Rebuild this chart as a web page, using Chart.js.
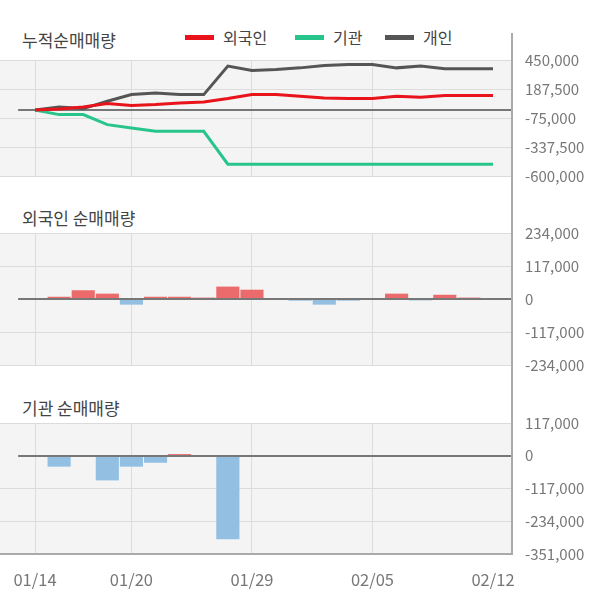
<!DOCTYPE html>
<html><head><meta charset="utf-8">
<script src="https://cdn.jsdelivr.net/npm/chart.js@4"></script>
<style>
body{margin:0;background:#fff;width:600px;height:604px;overflow:hidden;position:relative;font-family:'Noto Sans CJK KR','Noto Sans',sans-serif;}
canvas{position:absolute;left:0;}
.title{position:absolute;left:22px;font-size:17px;line-height:17px;color:#444;white-space:nowrap;}
.leg{position:absolute;top:29px;font-size:16px;line-height:16px;color:#444;display:flex;align-items:center;white-space:nowrap;}
.leg i{display:inline-block;width:29px;height:5px;margin-right:9px;}
.vline{position:absolute;left:511px;top:33px;width:2px;height:522px;background:#aaa;}
</style></head><body>
<div class="title" style="top:31px">누적순매매량</div>
<div id="legend"></div>
<div class="title" style="top:209px">외국인 순매매량</div>
<div class="title" style="top:399px">기관 순매매량</div>
<canvas id="c1" width="600" height="200" style="top:0"></canvas>
<canvas id="c2" width="600" height="180" style="top:200px"></canvas>
<canvas id="c3" width="600" height="224" style="top:380px"></canvas>
<div class="vline"></div>
<script>
// ---- data ----
const dates = ['01/14','01/15','01/16','01/17','01/20','01/21','01/22','01/23','01/28','01/29','01/30','01/31','02/03','02/04','02/05','02/06','02/07','02/10','02/11','02/12'];
const tickDates = ['01/14','01/20','01/29','02/05','02/12'];
const seriesNames = ['외국인','기관','개인'];
const foreignCum = [0,9000,27000,58000,40000,49000,64000,73000,104000,140000,140000,125000,110000,104000,104000,125000,116000,131000,131000,131000];
const instCum = [0,-42000,-42000,-133000,-164000,-194000,-194000,-194000,-493000,-493000,-493000,-493000,-493000,-493000,-493000,-493000,-493000,-493000,-493000,-493000];
const indivCum = [0,27000,13000,79000,140000,155000,140000,140000,399000,360000,369000,383000,405000,414000,414000,383000,399000,374000,374000,374000];
const foreignNet = [0,8000,31000,19000,-20000,8000,8000,5000,44000,33000,0,-6000,-20000,-6000,0,19000,-5000,15000,5000,0];
const instNet = [0,-39000,0,-88000,-39000,-25000,6000,0,-298000,0,0,0,0,0,0,0,0,0,0,0];
const cumTicks = [450000,187500,-75000,-337500,-600000];
const foreignTicks = [234000,117000,0,-117000,-234000];
const instTicks = [117000,0,-117000,-234000,-351000];

// ---- style ----
const lineColors = ['#e8131b','#27c48b','#555555'];
const posColor = '#eb6b6d', negColor = '#92bfe2';
const gridColor = '#dcdcdc';
const X_MIN = -1.452, X_MAX = 19.788, ZERO_START = -0.7;

Chart.defaults.font.family = "'Noto Sans CJK KR','Noto Sans',sans-serif";
Chart.defaults.animation = false;

// legend
const leg = document.getElementById('legend');
const legLeft = [185, 295, 385];
seriesNames.forEach((n,i)=>{
  const d = document.createElement('div');
  d.className = 'leg'; d.style.left = legLeft[i]+'px';
  d.innerHTML = '<i style="background:'+lineColors[i]+'"></i>'+n;
  leg.appendChild(d);
});

const tickIdx = tickDates.map(d => dates.indexOf(d));
const pts = arr => arr.map((v,i)=>({x:i,y:v}));

function zeroLine(chart){
  const {ctx, chartArea:a, scales} = chart;
  const y = Math.round(scales.y.getPixelForValue(0));
  const x0 = scales.x.getPixelForValue(ZERO_START);
  ctx.save();
  ctx.strokeStyle = '#777'; ctx.lineWidth = 2;
  ctx.beginPath(); ctx.moveTo(x0, y); ctx.lineTo(a.right, y); ctx.stroke();
  ctx.restore();
}
const panelPlugin = {
  id:'panel',
  beforeDraw(chart){
    const {ctx, chartArea:a} = chart;
    ctx.save(); ctx.fillStyle = '#f4f4f4';
    ctx.fillRect(a.left, a.top, a.right-a.left, a.bottom-a.top);
    ctx.restore();
  },
  beforeDatasetsDraw(chart){ if (chart.config.type === 'line') zeroLine(chart); },
  afterDatasetsDraw(chart){ if (chart.config.type === 'bar') zeroLine(chart); }
};

function scales(yTicks, xHeight, showX){
  return {
    x: {
      type:'linear', min:X_MIN, max:X_MAX, offset:false,
      afterBuildTicks: s => { s.ticks = tickIdx.map(v=>({value:v})); },
      afterFit: s => { s.height = xHeight; s.paddingLeft = 0; s.paddingRight = 0; s.paddingTop = 0; s.paddingBottom = 0; },
      grid: { offset:false, color: c => (c.tick && c.tick.value === dates.length-1) ? 'rgba(0,0,0,0)' : gridColor, drawTicks:false },
      border: { display: showX, color:'#aaa', width:2 },
      ticks: { display: showX, padding:16, color:'#777', font:{size:16.5}, maxRotation:0, autoSkip:false,
               callback: v => dates[v] }
    },
    y: {
      position:'right', min: yTicks[yTicks.length-1], max: yTicks[0], beginAtZero:false,
      afterBuildTicks: s => { s.ticks = yTicks.map(v=>({value:v})); },
      afterFit: s => { s.width = 88; s.paddingTop = 0; s.paddingBottom = 0; s.paddingLeft = 0; s.paddingRight = 0; },
      grid: { color: c => (c.tick && c.tick.value === 0) ? 'rgba(0,0,0,0)' : gridColor, drawTicks:false },
      border: { display:false },
      ticks: { padding:13, color:'#777', font:{size:15}, callback: v => v.toLocaleString('en-US') }
    }
  };
}
const common = (top, yTicks, xHeight, showX) => ({
  responsive:false, maintainAspectRatio:false, devicePixelRatio:1,
  layout:{ padding: {top:top, bottom:0, left:0, right:0} },
  plugins:{ legend:{display:false}, tooltip:{enabled:false} },
  scales: scales(yTicks, xHeight, showX)
});

new Chart(document.getElementById('c1'), {
  type:'line',
  data:{ datasets: [foreignCum, instCum, indivCum].map((arr,i)=>({
    label: seriesNames[i], data: pts(arr), borderColor: lineColors[i], borderWidth:3,
    pointRadius:0, tension:0, fill:false })) },
  options: common(60.5, cumTicks, 24, false),
  plugins:[panelPlugin]
});

function barChart(id, arr, ticks, top, xHeight, showX){
  return new Chart(document.getElementById(id), {
    type:'bar',
    data:{ datasets:[{ data: pts(arr), backgroundColor: arr.map(v => v >= 0 ? posColor : negColor),
      barPercentage:0.96, categoryPercentage:1, borderWidth:0 }] },
    options: common(top, ticks, xHeight, showX),
    plugins:[panelPlugin]
  });
}
barChart('c2', foreignNet, foreignTicks, 33, 15, false);
barChart('c3', instNet, instTicks, 43, 50, true);
</script>
</body></html>
